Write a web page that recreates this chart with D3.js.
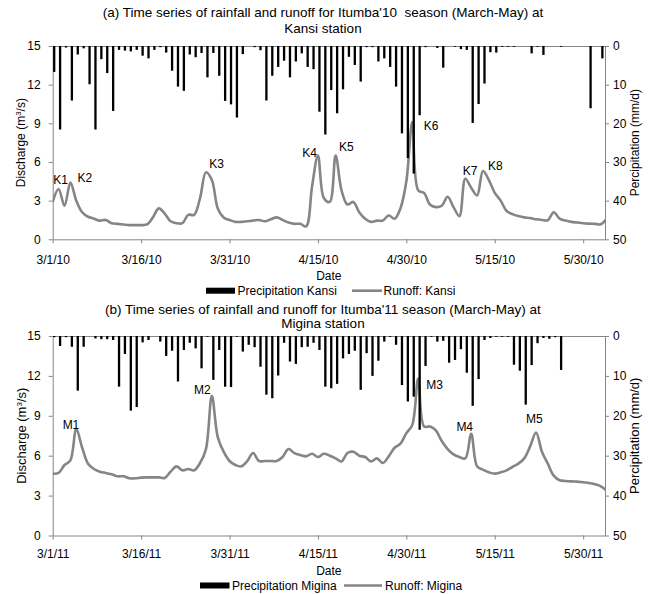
<!DOCTYPE html>
<html><head><meta charset="utf-8">
<script src="https://cdn.jsdelivr.net/npm/d3@7"></script>
<style>
body{margin:0;background:#fff}
svg{display:block}
text{font-family:"Liberation Sans",Arial,sans-serif;fill:#000}
.ttl{white-space:pre}
</style>
</head><body>
<svg id="chart" width="648" height="594"></svg>
<script>
// ---------- data ----------
const kansiRain = [6.7,21.6,0.4,14.1,2.2,0.6,9.9,21.6,3.4,7.0,
  16.8,1.0,1.2,1.4,1.0,2.5,3.2,1.0,0.3,1.7,
  6.4,10.5,11.6,2.2,2.9,1.8,8.1,1.8,7.7,
  14.2,15.1,18.5,2.1,0,0.3,1.1,14.1,7.7,5.4,
  3.8,8.1,4.0,1.9,5.4,6.0,17.0,22.9,11.4,17.4,
  11.2,2.8,4.9,9.2,0.3,0.3,4.0,3.2,5.4,10.5,
  22.6,29,33,
  17.9,0.3,0,0.5,5.6,0,0.2,0.8,1.0,19.9,
  15.0,9.7,1.6,1.7,0.2,0.2,0.2,0,0,1.9,
  0.2,2.3,0,0,0.2,0,0,0,0,16.1,
  0,3.2,0];
const kansiRunoff = [2.9,3.9,2.6,4.4,3.0,2.1,1.75,1.6,1.45,1.5,
  1.25,1.2,1.15,1.1,1.1,1.1,1.15,1.7,2.4,2.0,
  1.4,1.25,1.25,1.9,1.9,3.2,5.2,4.6,2.4,1.7,
  1.5,1.35,1.35,1.4,1.45,1.5,1.4,1.55,1.7,1.5,
  1.3,1.2,1.2,1.0,4.1,6.5,3.2,2.9,6.5,3.8,
  2.7,2.9,2.1,1.6,1.35,1.45,1.45,1.85,1.6,2.4,
  4.5,9.1,3.8,3.6,2.7,2.5,2.6,3.3,2.5,1.8,
  4.7,4.0,3.4,5.3,4.6,3.6,3.0,2.2,1.95,1.8,
  1.7,1.65,1.55,1.5,1.48,2.1,1.6,1.45,1.35,1.3,
  1.25,1.22,1.2,1.17,1.6];
const miginaRain = [0.3,2.5,0.3,2.7,13.7,2.7,0,0.6,0.8,0.8,
  1.0,12.7,4.5,18.7,17.8,1.6,1.0,0,1.4,5.0,
  3.7,11.4,3.5,1.7,3.1,8.1,0.2,11.0,3.5,12.7,
  12.8,0.2,3.9,2.2,2.8,7.7,14.7,15.6,9.9,1.7,
  6.4,7.0,2.8,2.7,1.7,3.5,12.7,13.1,12.0,5.6,
  4.5,3.7,13.5,4.3,10.0,6.2,1.4,0.2,2.2,12.3,
  16.4,15.2,23.5,7.5,0.2,1.4,1.2,6.7,6.0,3.3,
  9.2,17.5,10.8,1.0,0.5,0.2,0.2,0.2,7.2,8.7,
  17.2,7.3,1.8,0.5,0.7,0.3,8.5,0,0,0,
  0,0,0,0];
const miginaRunoff = [4.65,4.7,5.3,5.65,8.0,6.6,5.4,5.0,4.8,4.7,
  4.6,4.45,4.45,4.3,4.3,4.35,4.37,4.37,4.37,4.33,
  4.8,5.2,4.9,5.0,4.9,5.45,6.5,10.5,7.4,6.3,
  5.6,5.3,5.2,5.6,6.2,5.6,5.6,5.6,5.6,5.9,
  6.5,6.2,6.05,5.95,6.15,5.9,6.15,6.0,5.8,5.57,
  6.2,6.3,6.0,5.9,5.57,5.8,5.45,5.95,6.6,6.9,
  7.7,8.3,11.8,8.2,8.2,7.9,7.1,6.5,6.1,5.9,
  5.8,7.65,5.2,4.95,4.75,4.65,4.75,4.9,5.15,5.4,
  5.8,6.7,7.75,6.3,5.4,4.5,4.15,4.1,4.07,4.05,
  4.0,3.95,3.85,3.7,3.35];
const kansiDateLabels = ["3/1/10","3/16/10","3/31/10","4/15/10","4/30/10","5/15/10","5/30/10"];
const miginaDateLabels = ["3/1/11","3/16/11","3/31/11","4/15/11","4/30/11","5/15/11","5/30/11"];
const dischargeTicks = [0,3,6,9,12,15];
const rainTicks = [0,10,20,30,40,50];
const kansiPeaks = [
  {label:"K1",day:1.36,q:4.6},{label:"K2",day:5.47,q:4.81},{label:"K3",day:27.8,q:5.84},
  {label:"K4",day:43.6,q:6.72},{label:"K5",day:49.8,q:7.14},{label:"K6",day:64.2,q:8.79},
  {label:"K7",day:70.8,q:5.32},{label:"K8",day:75.1,q:5.69}];
const miginaPeaks = [
  {label:"M1",day:3.1,q:8.36},{label:"M2",day:25.4,q:10.94},{label:"M3",day:64.8,q:11.32},
  {label:"M4",day:69.9,q:8.18},{label:"M5",day:81.7,q:8.74}];

// ---------- drawing ----------
const svg = d3.select("#chart");
const DAY = 864e5;
const X0 = 52.7, X1 = 605;
const AXIS = "#868686";

function panel(o, idx) {
  const g = svg.append("g");
  const start = o.start;
  const x = d3.scaleUtc()
    .domain([start, new Date(start.getTime() + 93.7*DAY)])
    .range([X0, X1]);
  const yQ = d3.scaleLinear().domain([0,15]).range([o.bottom, o.top]);
  const yP = d3.scaleLinear().domain([0,50]).range([o.top, o.bottom]);
  const dates = o.runoff.map((_,i) => d3.utcDay.offset(start, i));
  const tickDates = o.dateLabels.map((_,i) => d3.utcDay.offset(start, i*15));
  const dayX = d => x(new Date(start.getTime() + d*DAY));

  // title
  o.title.forEach((t,i) => g.append("text").attr("class","ttl")
    .attr("x", 323).attr("y", o.titleY[i])
    .attr("text-anchor","middle").style("font-size","13.5px").text(t));

  // axes
  const styleAxis = sel => {
    sel.selectAll(".domain").attr("stroke", AXIS);
    sel.selectAll(".tick line").attr("stroke", AXIS);
    sel.selectAll("text").style("font-size","12px")
      .style("font-family",'"Liberation Sans",Arial,sans-serif').attr("fill","#000");
  };
  g.append("g").attr("transform",`translate(${X0},0)`)
    .call(d3.axisLeft(yQ).tickValues(dischargeTicks).tickSize(4).tickSizeOuter(0).tickPadding(8))
    .call(styleAxis);
  g.append("g").attr("transform",`translate(${X1},0)`)
    .call(d3.axisRight(yP).tickValues(rainTicks).tickSize(4).tickSizeOuter(0).tickPadding(4))
    .call(styleAxis);
  g.append("g").attr("transform",`translate(0,${o.bottom})`)
    .call(d3.axisBottom(x).tickValues(tickDates).tickFormat((d,i)=>o.dateLabels[i])
      .tickSize(4).tickSizeOuter(0).tickPadding(o.xPad))
    .call(styleAxis);
  g.append("g").attr("transform",`translate(0,${o.top})`)
    .call(d3.axisTop(x).tickValues([]).tickSizeOuter(0))
    .call(styleAxis);

  // runoff line
  const clipId = "clip"+idx;
  g.append("clipPath").attr("id", clipId).append("rect")
    .attr("x", X0).attr("y", o.top-30).attr("width", X1-X0).attr("height", o.bottom-o.top+30);
  g.append("path").datum(o.runoff)
    .attr("clip-path", `url(#${clipId})`)
    .attr("fill","none").attr("stroke","#858585").attr("stroke-width",2.6)
    .attr("stroke-linejoin","round")
    .attr("d", d3.line().x((d,i)=>x(dates[i])).y(d=>yQ(d)).curve(d3.curveCatmullRom.alpha(0.5)));

  // rainfall bars
  g.append("g").selectAll("rect").data(o.rain).join("rect")
    .attr("x", (d,i) => x(dates[i]) + 1.5 - 1.15)
    .attr("width", 2.3)
    .attr("y", yP(0))
    .attr("height", d => yP(d) - yP(0))
    .attr("fill","#000");

  // peak labels
  g.append("g").selectAll("text").data(o.peaks).join("text")
    .attr("x", d => dayX(d.day)).attr("y", d => yQ(d.q))
    .attr("dy","0.35em").attr("text-anchor","middle").style("font-size","12px")
    .text(d => d.label);

  // axis titles
  const mid = (o.top + o.bottom)/2;
  const lt = g.append("text").attr("transform",`translate(${o.leftTitleX},${mid}) rotate(-90)`)
    .attr("text-anchor","middle").style("font-size", o.titleFont);
  lt.append("tspan").text("Discharge (m");
  lt.append("tspan").attr("baseline-shift","super").style("font-size","8px").text("3");
  lt.append("tspan").text("/s)");
  g.append("text").attr("transform",`translate(${o.rightTitleX},${mid}) rotate(-90)`)
    .attr("text-anchor","middle").style("font-size", o.titleFont).text("Percipitation (mm/d)");
  g.append("text").attr("x", (X0+X1)/2).attr("y", o.dateY)
    .attr("text-anchor","middle").style("font-size","12px").text("Date");

  // legend
  const L = o.legend;
  g.append("rect").attr("x", L.rx).attr("y", L.y-3).attr("width", L.rw).attr("height", 6).attr("fill","#000");
  g.append("text").attr("x", L.tx).attr("y", L.y+4.3).style("font-size","12px").text(L.rainName);
  g.append("line").attr("x1", L.lx).attr("x2", L.lx+L.lw).attr("y1", L.y).attr("y2", L.y)
    .attr("stroke","#858585").attr("stroke-width",2.6);
  g.append("text").attr("x", L.t2x).attr("y", L.y+4.3).style("font-size","12px").text(L.runName);
}

panel({
  start: new Date(Date.UTC(2010,2,1)),
  top: 46, bottom: 239.3,
  rain: kansiRain, runoff: kansiRunoff, dateLabels: kansiDateLabels, peaks: kansiPeaks,
  title: ["(a) Time series of rainfall and runoff for Itumba'10  season (March-May) at", "Kansi station"],
  titleY: [17, 32.5], xPad: 12.5, dateY: 280,
  leftTitleX: 25, rightTitleX: 639, titleFont: "12px",
  legend: {y: 290.7, rx: 206, rw: 29, tx: 237.5, lx: 352, lw: 30, t2x: 383.5,
    rainName: "Precipitation Kansi", runName: "Runoff: Kansi"}
}, 0);

panel({
  start: new Date(Date.UTC(2011,2,1)),
  top: 336, bottom: 535.5,
  rain: miginaRain, runoff: miginaRunoff, dateLabels: miginaDateLabels, peaks: miginaPeaks,
  title: ["(b) Time series of rainfall and runoff for Itumba'11 season (March-May) at", "Migina station"],
  titleY: [314, 327.5], xPad: 10, dateY: 575,
  leftTitleX: 26, rightTitleX: 639, titleFont: "13px",
  legend: {y: 585.5, rx: 200, rw: 29.5, tx: 232, lx: 344, lw: 38, t2x: 385,
    rainName: "Precipitation Migina", runName: "Runoff: Migina"}
}, 1);
</script>
</body></html>
